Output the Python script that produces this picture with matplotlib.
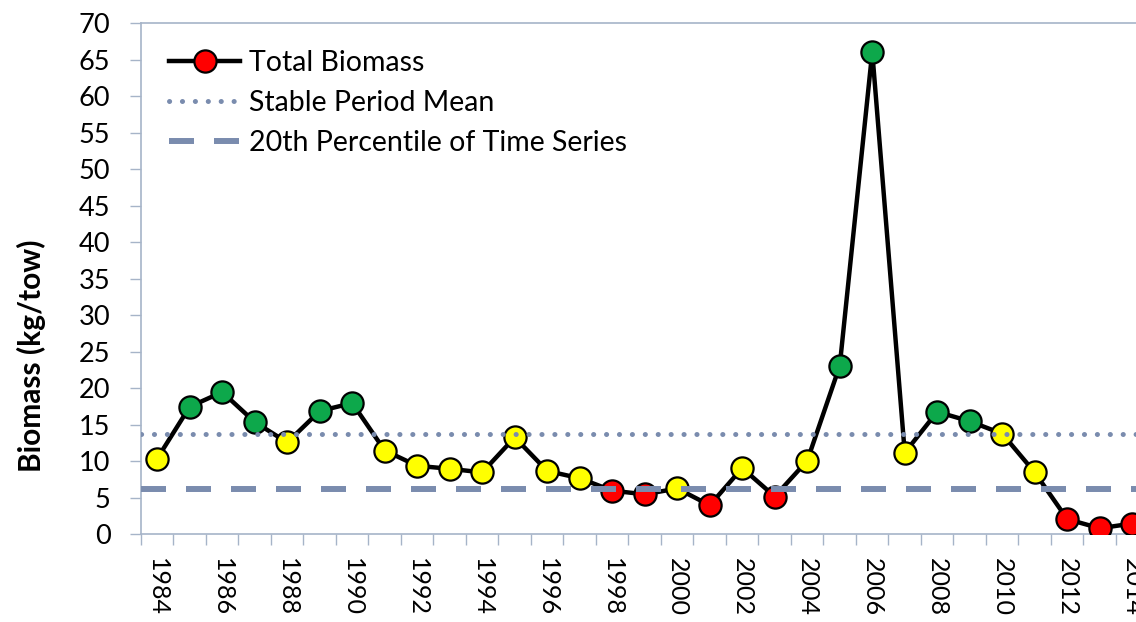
import matplotlib.pyplot as plt
from matplotlib.lines import Line2D

plt.rcParams['font.family'] = ['Lato', 'DejaVu Sans']
plt.rcParams['lines.scale_dashes'] = False

# data
years = list(range(1984, 2015))
biomass = [10.4, 17.5, 19.5, 15.4, 12.6, 16.9, 18.0, 11.5, 9.4, 9.0,
           8.5, 13.3, 8.7, 7.7, 6.0, 5.5, 6.3, 4.0, 9.1, 5.2,
           10.1, 23.1, 66.1, 11.2, 16.8, 15.5, 13.8, 8.5, 2.1, 0.85, 1.5]
status = ['Y', 'G', 'G', 'G', 'Y', 'G', 'G', 'Y', 'Y', 'Y',
          'Y', 'Y', 'Y', 'Y', 'R', 'R', 'Y', 'R', 'Y', 'R',
          'Y', 'G', 'G', 'Y', 'G', 'G', 'Y', 'Y', 'R', 'R', 'R']
stable_mean = 13.8
pct20 = 6.2

status_colors = {'R': '#FF0000', 'Y': '#FFFF00', 'G': '#0DA84B'}
ref_color = '#7A8CAE'
axis_color = '#A6B4C8'
fs = 20.5

fig = plt.figure(figsize=(11.36, 6.22), dpi=100)
ax = fig.add_axes([0.1241, 0.1407, 0.8869, 0.8218])

ax.plot(years, biomass, color='black', lw=3.2, zorder=2)
for yr, v, s in zip(years, biomass, status):
    ax.plot(yr, v, marker='o', ms=16, mfc=status_colors[s], mec='black',
            mew=1.6, ls='none', zorder=3)

dot_style = (0, (0.1, 9.2))
dash_style = (0, (18, 14.4))
ax.axhline(stable_mean, color=ref_color, lw=3.6, ls=dot_style,
           dash_capstyle='round', zorder=4)
ax.axhline(pct20, color=ref_color, lw=4.3, ls=dash_style,
           dash_capstyle='butt', zorder=4)

ax.set_xlim(1983.5, 2014.5)
ax.set_ylim(0, 70)
ax.set_yticks(range(0, 71, 5))
ax.set_xticks(years[::2])
ax.set_xticks([y - 0.5 for y in years] + [2014.5], minor=True)
ax.tick_params(axis='x', which='major', length=0, labelsize=18, rotation=270, pad=17)
ax.tick_params(axis='x', which='minor', length=8, color=axis_color, width=1)
ax.tick_params(axis='y', length=8, color=axis_color, width=1, labelsize=19.5, pad=14)

for side in ['left', 'bottom', 'top', 'right']:
    ax.spines[side].set_color(axis_color)
    ax.spines[side].set_linewidth(1.2)

ax.set_ylabel('Biomass (kg/tow)', fontsize=21.5, fontweight='bold', va='center')
ax.yaxis.set_label_coords(-0.109, 0.349)

handles = [
    Line2D([], [], color='black', lw=3.2, marker='o', ms=16, mfc='#FF0000',
           mec='black', mew=1.6),
    Line2D([], [], color=ref_color, lw=3.6, ls=dot_style, dash_capstyle='round'),
    Line2D([], [], color=ref_color, lw=4.3, ls=dash_style, dash_capstyle='butt'),
]
labels = ['Total Biomass', 'Stable Period Mean', '20th Percentile of Time Series']
ax.legend(handles, labels, loc='upper left', bbox_to_anchor=(0.028, 0.948),
          frameon=False, fontsize=fs, handlelength=2.5, handletextpad=0.3,
          labelspacing=0.5, borderpad=0, borderaxespad=0, numpoints=1)

fig.savefig('out.png', dpi=100)
